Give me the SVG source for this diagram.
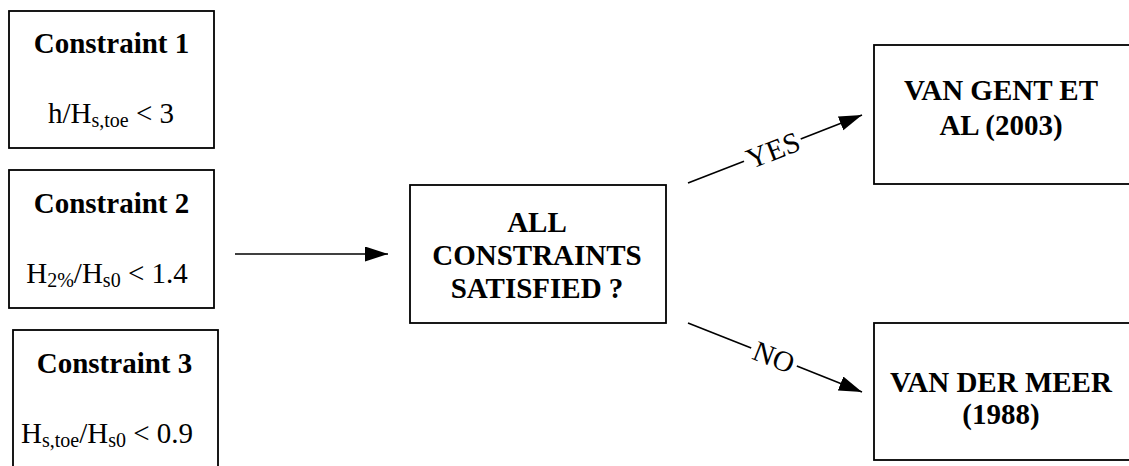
<svg xmlns="http://www.w3.org/2000/svg" width="1129" height="466" viewBox="0 0 1129 466">
<style>
.box{fill:#fff;stroke:#000;stroke-width:1.8}
.t{font-family:'Liberation Serif','Times New Roman',Times,'DejaVu Serif',serif;font-size:29px;fill:#000}
.b{font-weight:bold}
.sub{font-size:20px}
.ln{stroke:#000;stroke-width:1.6;fill:none}
</style>
<defs>
<marker id="ah" markerUnits="userSpaceOnUse" markerWidth="24" markerHeight="16" refX="23" refY="7.5" orient="auto">
<path d="M0,0 L23,7.5 L0,15 z" fill="#000"/>
</marker>
</defs>
<rect width="1129" height="466" fill="#fff"/>
<g id="c1">
<rect class="box" x="9" y="11" width="205" height="137"/>
<text class="t b" font-family="Liberation Serif, serif" x="111.5" y="53" text-anchor="middle">Constraint 1</text>
<text class="t" font-family="Liberation Serif, serif" x="111" y="123" text-anchor="middle">h/H<tspan class="sub" dy="4">s,toe</tspan><tspan dy="-4"> &lt; 3</tspan></text>
</g>
<g id="c2">
<rect class="box" x="9" y="170" width="205" height="138"/>
<text class="t b" font-family="Liberation Serif, serif" x="111.5" y="213" text-anchor="middle">Constraint 2</text>
<text class="t" font-family="Liberation Serif, serif" x="107" y="283" text-anchor="middle">H<tspan class="sub" dy="4">2%</tspan><tspan dy="-4">/H</tspan><tspan class="sub" dy="4">s0</tspan><tspan dy="-4"> &lt; 1.4</tspan></text>
</g>
<g id="c3">
<rect class="box" x="13" y="330" width="205" height="150"/>
<text class="t b" font-family="Liberation Serif, serif" x="114.5" y="373" text-anchor="middle">Constraint 3</text>
<text class="t" font-family="Liberation Serif, serif" x="107" y="443" text-anchor="middle">H<tspan class="sub" dy="4">s,toe</tspan><tspan dy="-4">/H</tspan><tspan class="sub" dy="4">s0</tspan><tspan dy="-4"> &lt; 0.9</tspan></text>
</g>
<g id="decision">
<rect class="box" x="410" y="185" width="256" height="138"/>
<text class="t b" font-family="Liberation Serif, serif" x="537" y="232" text-anchor="middle">ALL</text>
<text class="t b" font-family="Liberation Serif, serif" x="537" y="265" text-anchor="middle">CONSTRAINTS</text>
<text class="t b" font-family="Liberation Serif, serif" x="537" y="298" text-anchor="middle">SATISFIED ?</text>
</g>
<g id="vangent">
<rect class="box" x="874" y="45" width="265" height="139"/>
<text class="t b" font-family="Liberation Serif, serif" x="1001" y="100" text-anchor="middle">VAN GENT ET</text>
<text class="t b" font-family="Liberation Serif, serif" x="1001" y="135" text-anchor="middle">AL (2003)</text>
</g>
<g id="vandermeer">
<rect class="box" x="874" y="323" width="265" height="137"/>
<text class="t b" font-family="Liberation Serif, serif" x="1001" y="392" text-anchor="middle">VAN DER MEER</text>
<text class="t b" font-family="Liberation Serif, serif" x="1001" y="424" text-anchor="middle">(1988)</text>
</g>
<g id="connectors">
<line class="ln" x1="235" y1="254" x2="388" y2="254" marker-end="url(#ah)"/>
<line class="ln" x1="688" y1="183" x2="744" y2="161.2"/>
<line class="ln" x1="800.7" y1="139" x2="862" y2="115" marker-end="url(#ah)"/>
<text class="t" font-family="Liberation Serif, serif" transform="translate(773,150) rotate(-21.3)" x="0" y="10" text-anchor="middle">YES</text>
<line class="ln" x1="688" y1="323" x2="751.2" y2="348.1"/>
<line class="ln" x1="796.8" y1="366.1" x2="862" y2="392" marker-end="url(#ah)"/>
<text class="t" font-family="Liberation Serif, serif" transform="translate(774,357) rotate(21.6)" x="0" y="10" text-anchor="middle">NO</text>
</g>
</svg>
